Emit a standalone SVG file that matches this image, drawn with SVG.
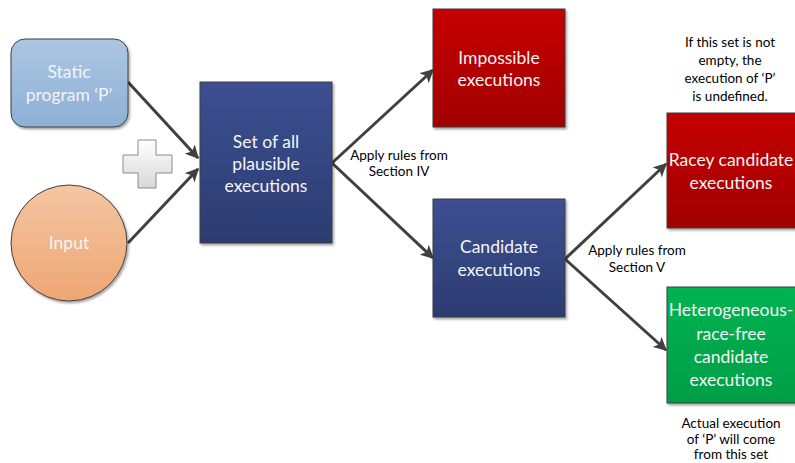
<svg xmlns="http://www.w3.org/2000/svg" width="795" height="463" viewBox="0 0 795 463">
<defs>
<linearGradient id="gStatic" x1="0" y1="0" x2="0" y2="1"><stop offset="0" stop-color="#abc6e2"/><stop offset="1" stop-color="#8eb0d6"/></linearGradient>
<linearGradient id="gInput" x1="0" y1="0" x2="0" y2="1"><stop offset="0" stop-color="#f4c6a2"/><stop offset="1" stop-color="#eea673"/></linearGradient>
<linearGradient id="gBlue" x1="0" y1="0" x2="0" y2="1"><stop offset="0" stop-color="#3c4f92"/><stop offset="1" stop-color="#2c3c70"/></linearGradient>
<linearGradient id="gRed" x1="0" y1="0" x2="0" y2="1"><stop offset="0" stop-color="#c40000"/><stop offset="1" stop-color="#a20000"/></linearGradient>
<linearGradient id="gGreen" x1="0" y1="0" x2="0" y2="1"><stop offset="0" stop-color="#00b352"/><stop offset="1" stop-color="#009e46"/></linearGradient>
<linearGradient id="gPlus" x1="0" y1="0" x2="0" y2="1"><stop offset="0" stop-color="#ffffff"/><stop offset="1" stop-color="#d8d8d8"/></linearGradient>
<marker id="arr" viewBox="0 0 10 10" refX="9" refY="5" markerWidth="4.5" markerHeight="4.5" orient="auto" markerUnits="strokeWidth">
<path d="M0,0 L10,5 L0,10 L2.5,5 z" fill="#404040"/>
</marker>
<filter id="sh" x="-10%" y="-10%" width="130%" height="130%"><feDropShadow dx="1.5" dy="2" stdDeviation="1.2" flood-color="#000" flood-opacity="0.35"/></filter>
</defs>
<style>
.box{stroke:#3f3f3f;stroke-width:1;filter:url(#sh)}
.bt{font-family:Lato,"Open Sans",sans-serif;font-size:17.5px;fill:#f4f4f4;text-anchor:middle}
.lbl{font-family:Lato,"Open Sans",sans-serif;font-size:13.5px;fill:#000;text-anchor:middle}
.con{stroke:#404040;stroke-width:3;fill:none;marker-end:url(#arr)}
</style>
<g id="connectors">
<line class="con" x1="128" y1="82" x2="198" y2="158"/>
<line class="con" x1="128" y1="243" x2="198" y2="169"/>
<line class="con" x1="332" y1="163" x2="433" y2="70"/>
<line class="con" x1="332" y1="163" x2="433" y2="258"/>
<line class="con" x1="565" y1="259" x2="666" y2="164"/>
<line class="con" x1="565" y1="259" x2="666" y2="350"/>
</g>
<g id="static">
<rect class="box" x="11" y="39" width="117" height="88" rx="14" fill="url(#gStatic)" stroke="#506a8c"/>
<text class="bt" x="69" y="78">Static</text>
<text class="bt" x="69" y="101">program ‘P’</text>
</g>
<g id="plus">
<path d="M138,140 H156 V155 H172 V173 H156 V188 H138 V173 H123 V155 H138 Z" fill="url(#gPlus)" stroke="#8a8a8a" stroke-width="1"/>
</g>
<g id="input">
<circle class="box" cx="69" cy="243" r="58" fill="url(#gInput)"/>
<text class="bt" x="69" y="249">Input</text>
</g>
<g id="setall">
<rect class="box" x="200" y="82" width="132" height="161" fill="url(#gBlue)"/>
<text class="bt" x="266" y="148">Set of all</text>
<text class="bt" x="266" y="170">plausible</text>
<text class="bt" x="266" y="192">executions</text>
</g>
<g id="lbl1">
<text class="lbl" x="399" y="160">Apply rules from</text>
<text class="lbl" x="399" y="176">Section IV</text>
</g>
<g id="impossible">
<rect class="box" x="433" y="9" width="132" height="118" fill="url(#gRed)"/>
<text class="bt" x="499" y="64">Impossible</text>
<text class="bt" x="499" y="86">executions</text>
</g>
<g id="candidate">
<rect class="box" x="433" y="199" width="132" height="118" fill="url(#gBlue)"/>
<text class="bt" x="499" y="253">Candidate</text>
<text class="bt" x="499" y="276">executions</text>
</g>
<g id="lbl2">
<text class="lbl" x="637" y="255">Apply rules from</text>
<text class="lbl" x="637" y="272">Section V</text>
</g>
<g id="note1">
<text class="lbl" x="730" y="47">If this set is not</text>
<text class="lbl" x="730" y="65">empty, the</text>
<text class="lbl" x="730" y="83">execution of ‘P’</text>
<text class="lbl" x="730" y="101">is undefined.</text>
</g>
<g id="racey">
<rect class="box" x="667" y="113" width="131" height="115" fill="url(#gRed)"/>
<text class="bt" x="731" y="166">Racey candidate</text>
<text class="bt" x="731" y="189">executions</text>
</g>
<g id="hetero">
<rect class="box" x="667" y="287" width="131" height="116" fill="url(#gGreen)"/>
<text class="bt" x="731" y="316">Heterogeneous-</text>
<text class="bt" x="731" y="340">race-free</text>
<text class="bt" x="731" y="363">candidate</text>
<text class="bt" x="731" y="386">executions</text>
</g>
<g id="note2">
<text class="lbl" x="731" y="428">Actual execution</text>
<text class="lbl" x="731" y="444">of ‘P’ will come</text>
<text class="lbl" x="731" y="459">from this set</text>
</g>
</svg>
